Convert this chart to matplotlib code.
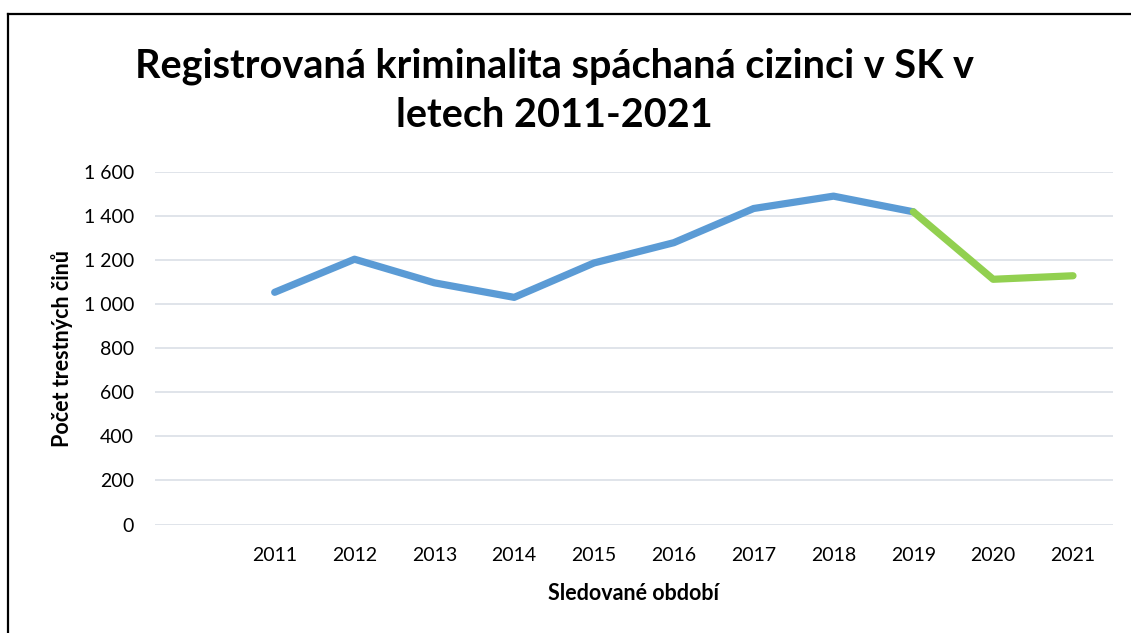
import numpy as np
import matplotlib.pyplot as plt
from matplotlib.lines import Line2D
from matplotlib.ticker import FuncFormatter

# data
years = ['', '2011', '2012', '2013', '2014', '2015', '2016', '2017', '2018', '2019', '2020', '2021']
crimes = [np.nan, 1053, 1203, 1096, 1030, 1186, 1278, 1433, 1489, 1418, 1112, 1128]
split_year = '2019'  # after this the line turns green

title = 'Registrovaná kriminalita spáchaná cizinci v SK v\nletech 2011-2021'
xlabel = 'Sledované období'
ylabel = 'Počet trestných činů'

plt.rcParams['font.family'] = ['Lato', 'DejaVu Sans']

fig = plt.figure(figsize=(11.31, 6.33), dpi=100)
ax = fig.add_axes([0.137, 0.1714, 0.847, 0.5574])

x = np.arange(len(years))
k = years.index(split_year)
ax.plot(x[:k + 1], crimes[:k + 1], color='#5B9BD5', lw=5.2, solid_capstyle='round',
        solid_joinstyle='round', zorder=3)
ax.plot(x[k:], crimes[k:], color='#92D050', lw=5.2, solid_capstyle='round',
        solid_joinstyle='round', zorder=3)

ax.set_xlim(-0.5, len(years) - 0.5)
ax.set_ylim(0, 1600)
ax.set_yticks(np.arange(0, 1601, 200))
ax.yaxis.set_major_formatter(FuncFormatter(lambda v, p: f'{int(v):,}'.replace(',', ' ')))
ax.set_xticks(x)
ax.set_xticklabels(years)
ax.grid(axis='y', color='#DDE2E8', lw=1.3)
ax.set_axisbelow(True)
for s in ax.spines.values():
    s.set_visible(False)
ax.tick_params(axis='both', length=0, labelsize=14, colors='black')
ax.tick_params(axis='y', pad=15)
ax.tick_params(axis='x', pad=16)

ax.set_xlabel(xlabel, fontsize=15.5, fontweight='bold', labelpad=14)
ax.set_ylabel(ylabel, fontsize=15.5, fontweight='bold', labelpad=8)

fig.text(0.49, 0.925, title, ha='center', va='top', fontsize=28.5, fontweight='bold',
         linespacing=1.4)

# outer frame (partly cut off like the source image)
fig.add_artist(Line2D([8 / 1131, 8 / 1131], [0, 1 - 14 / 633], color='black', lw=1.6))
fig.add_artist(Line2D([8 / 1131, 1], [1 - 14 / 633, 1 - 14 / 633], color='black', lw=1.6))

fig.savefig('out.png', dpi=100)
